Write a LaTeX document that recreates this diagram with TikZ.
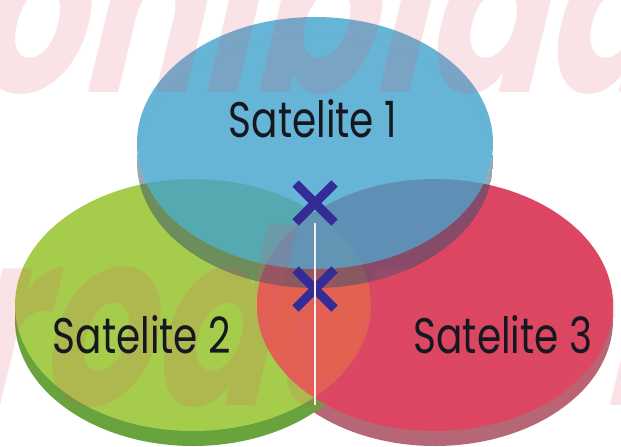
\documentclass[tikz,border=0pt]{standalone}
\usepackage{fontspec}
\setmainfont{Poppins}
\newfontfamily\lblfont[FakeStretch=0.78]{Poppins}
\newfontfamily\markfont[FakeSlant=0.24,FakeStretch=0.72]{Poppins}
\usetikzlibrary{shapes.misc}

\definecolor{bluefill}{RGB}{65,162,204}
\definecolor{bluerim}{RGB}{50,80,110}
\definecolor{greenfill}{RGB}{165,205,75}
\definecolor{greenrim}{RGB}{104,163,62}
\definecolor{redfill}{RGB}{220,70,98}
\definecolor{redrim}{RGB}{182,103,118}
\definecolor{overlapfill}{RGB}{226,98,82}
\definecolor{crossblue}{RGB}{52,44,150}
\definecolor{markpink}{RGB}{225,80,105}
\definecolor{labeltext}{RGB}{22,24,32}
\definecolor{seam}{RGB}{247,236,238}

\begin{document}
\begin{tikzpicture}[x=1pt,y=-1pt,
  disc/.style={x radius=178pt,y radius=126pt},
  lbl/.style={anchor=base,inner sep=0pt,text=labeltext,
    font=\lblfont\fontsize{50}{50}\selectfont},
  xmark/.style={cross out,draw=crossblue,line width=9pt,minimum size=30pt,inner sep=0pt},
  seamline/.style={draw=seam,line width=2.8pt},
  wmtext/.style={inner sep=0pt,text=markpink,text opacity=0.16,
    font=\markfont\bfseries\fontsize{245}{245}\selectfont}]
\useasboundingbox (0,0) rectangle (621,447);

% disc centres (top faces) and their lower rims
\coordinate (cB)  at (315,143);
\coordinate (cBr) at (315,162);
\coordinate (cG)  at (193,305);
\coordinate (cGr) at (193,320);
\coordinate (cR)  at (435,305);
\coordinate (cRr) at (435,320);

% lower two discs
\fill[redrim]   (cRr) ellipse[disc];
\fill[greenrim] (cGr) ellipse[disc];
\fill[greenfill] (cG) ellipse[disc];
\fill[redfill]   (cR) ellipse[disc];
\begin{scope}
  \clip (cG) ellipse[disc];
  \fill[overlapfill] (cR) ellipse[disc];
\end{scope}

% upper disc: translucent rim band, then translucent face
\begin{scope}
  \clip (cBr) ellipse[disc];
  \fill[bluerim,opacity=0.5,even odd rule] (cBr) ellipse[disc] (cB) ellipse[disc];
\end{scope}
\fill[bluefill,opacity=0.8] (cB) ellipse[disc];

% watermark
\node[wmtext,anchor=base east] (wm1) at (660,92) {Prohibida};
\node[wmtext,anchor=base west] (wm2) at (-345,405) {reproducción};

% crossing marks and seam
\node[xmark] (x1) at (315,203) {};
\node[xmark] (x2) at (315,289) {};
\coordinate (seamend) at (315,405);
\draw[seamline] (x1.south) -- (x2.center) -- (seamend);

% labels
\node[lbl] (s1) at (313,137) {Satelite 1};
\node[lbl] (s2) at (142,353) {Satelite 2};
\node[lbl] (s3) at (503,353) {Satelite 3};
\end{tikzpicture}
\end{document}
